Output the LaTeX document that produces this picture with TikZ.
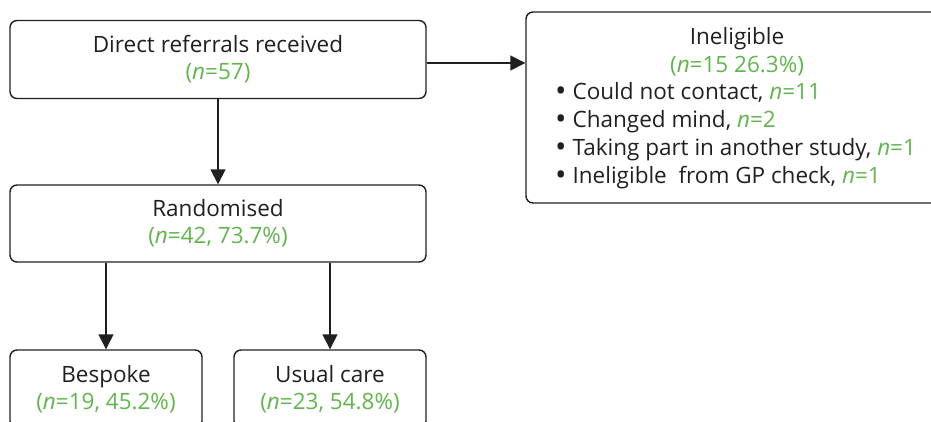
\documentclass[tikz,border=0pt]{standalone}
\usepackage{fontspec}
\setmainfont{Open Sans}
\usetikzlibrary{arrows.meta}
\definecolor{grn}{RGB}{96,182,76}
\definecolor{ink}{RGB}{35,31,32}
\newcommand{\gn}[1]{\textcolor{grn}{#1}}
\newcommand{\bul}{\raisebox{-2pt}{\scalebox{1.35}{•}}\hspace{6pt}}
\tikzset{
  box/.style={draw=ink, line width=1.4pt, rounded corners=7pt, align=center, inner sep=0pt,
    font=\fontsize{22.5}{27}\selectfont, text=ink},
  arr/.style={draw=ink, line width=1.4pt, -{Triangle[width=15pt,length=15pt]}},
  txt/.style={inner sep=0pt, text height=16pt, text depth=5pt,
    font=\fontsize{22.5}{27}\selectfont, text=ink},
}
\begin{document}
\begin{tikzpicture}[x=1pt,y=-1pt]
\useasboundingbox (0,0) rectangle (931,421);
\clip (0,0) rectangle (931,421);
\node[box, minimum width=416pt, minimum height=78pt] (ref) at (218,59.5)
  {Direct referrals received\\\gn{(\textit{n}=57)}};
\node[box, minimum width=422pt, minimum height=191pt] (inel) at (737,107.5) {};
\node[txt, anchor=base] (t1) at (737,44.5) {Ineligible};
\node[txt, anchor=base] (t2) at (737,72) {\gn{(\textit{n}=15 26.3\%)}};
\node[txt, anchor=base west] (b1) at (555,99.5) {\bul Could not contact, \gn{\textit{n}=11}};
\node[txt, anchor=base west] (b2) at (555,127.5) {\bul Changed mind, \gn{\textit{n}=2}};
\node[txt, anchor=base west] (b3) at (555,155.5) {\bul Taking part in another study, \gn{\textit{n}=1}};
\node[txt, anchor=base west] (b4) at (555,183.5) {\bul Ineligible\ \ from GP check, \gn{\textit{n}=1}};
\node[box, minimum width=416pt, minimum height=77pt] (rand) at (218,223.5)
  {Randomised\\\gn{(\textit{n}=42, 73.7\%)}};
\node[box, minimum width=192pt, minimum height=78pt] (besp) at (106,389)
  {Bespoke\\\gn{(\textit{n}=19, 45.2\%)}};
\node[box, minimum width=192pt, minimum height=78pt] (usual) at (330,389)
  {Usual care\\\gn{(\textit{n}=23, 54.8\%)}};
\draw[arr] (ref.east |- 0,63) -- (inel.west |- 0,63);
\draw[arr] (ref.south) -- (rand.north);
\draw[arr] (rand.south -| besp.north) -- (besp.north);
\draw[arr] (rand.south -| usual.north) -- (usual.north);
\end{tikzpicture}
\end{document}
